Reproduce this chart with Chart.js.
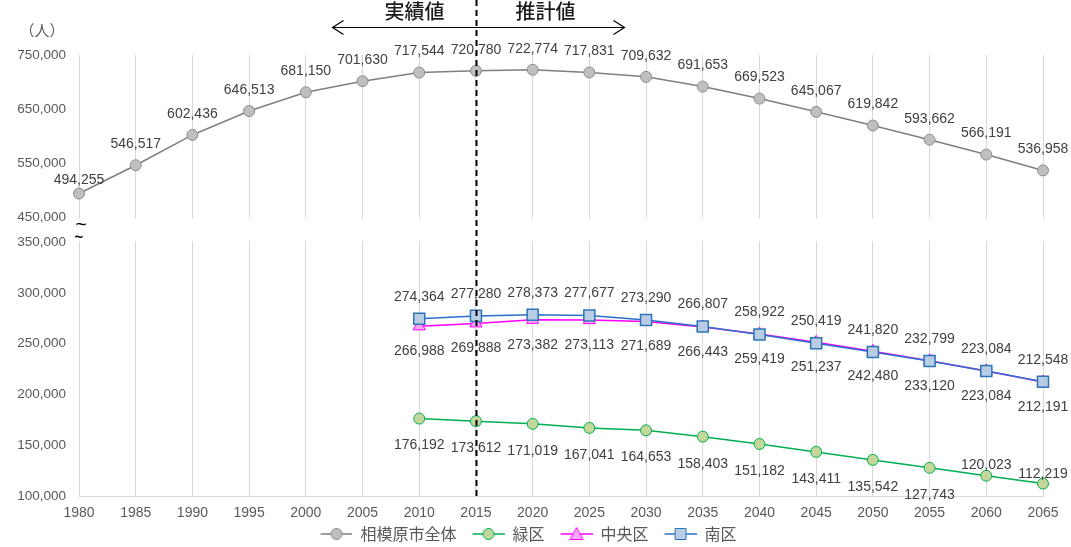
<!DOCTYPE html>
<html><head><meta charset="utf-8">
<script src="https://cdn.jsdelivr.net/npm/chart.js@4.4.1/dist/chart.umd.min.js"></script>
<style>html,body{margin:0;padding:0;background:#fff}#wrap{width:1071px;height:547px}</style>
</head><body><div id="wrap"><canvas id="c" width="1071" height="547"></canvas></div>
<script>
// ---- data ----
const years = ['1980','1985','1990','1995','2000','2005','2010','2015','2020','2025','2030','2035','2040','2045','2050','2055','2060','2065'];
const totalPop = [494255,546517,602436,646513,681150,701630,717544,720780,722774,717831,709632,691653,669523,645067,619842,593662,566191,536958];
const districtYears = ['2010','2015','2020','2025','2030','2035','2040','2045','2050','2055','2060','2065'];
const midori = [176192,173612,171019,167041,164653,158403,151182,143411,135542,127743,120023,112219];
const chuo   = [266988,269888,273382,273113,271689,266443,259419,251237,242480,233120,223084,212191];
const minami = [274364,277280,278373,277677,273290,266807,258922,250419,241820,232799,223084,212548];
const seriesNames = ['相模原市全体','緑区','中央区','南区'];
const topTicks = [450000,550000,650000,750000];
const bottomTicks = [100000,150000,200000,250000,300000,350000];
const splitYear = '2015';
const unitLabel = '（人）';
const pastLabel = '実績値';
const futureLabel = '推計値';

const FONT = '"Liberation Sans", "Noto Sans CJK JP", sans-serif';
const JFONT = '"Noto Sans CJK JP", "Liberation Sans", sans-serif';
const fmt = v => v.toLocaleString('en-US');
const pts = arr => districtYears.map((y,i)=>({x:y,y:arr[i]}));

// label vertical offsets (style only): negative = above
const labelDy = [
  totalPop.map((v,i)=> i===0 ? -13 : -21),
  midori.map((v,i)=> i>=10 ? (i===10 ? -11 : -9) : 27),
  chuo.map(()=>25),
  minami.map(()=>-22)
];

function legendIcon(ds){
  const c = document.createElement('canvas');
  c.width = 46; c.height = 16;
  const g = c.getContext('2d');
  const L = 14, W = 32, cx = L + W/2;
  g.strokeStyle = ds.borderColor; g.lineWidth = 1.5;
  g.beginPath(); g.moveTo(L,8); g.lineTo(L+W,8); g.stroke();
  g.fillStyle = ds.pointBackgroundColor; g.strokeStyle = ds.pointBorderColor; g.lineWidth = 1;
  g.beginPath();
  if (ds.pointStyle === 'rect') { g.rect(cx-5.5,2.5,11,11); }
  else if (ds.pointStyle === 'triangle') { g.moveTo(cx,1.5); g.lineTo(cx+6.5,13.5); g.lineTo(cx-6.5,13.5); g.closePath(); }
  else { g.arc(cx,8,5.5,0,Math.PI*2); }
  g.fill(); g.stroke();
  return c;
}

const overlay = {
  id: 'overlay',
  beforeDatasetsDraw(chart){
    const {ctx, chartArea, scales} = chart;
    const y1 = scales.yTop.getPixelForValue(450000) + 1;
    const y2 = scales.yBot.getPixelForValue(350000) - 1;
    ctx.save();
    ctx.fillStyle = '#fff';
    ctx.fillRect(chartArea.left - 2, y1, chartArea.right - chartArea.left + 4, y2 - y1);
    ctx.restore();
  },
  afterDatasetsDraw(chart){
    const {ctx} = chart;
    ctx.save();
    ctx.font = '14px ' + FONT;
    ctx.fillStyle = '#404040';
    ctx.textAlign = 'center';
    ctx.textBaseline = 'middle';
    chart.data.datasets.forEach((ds, di) => {
      const meta = chart.getDatasetMeta(di);
      meta.data.forEach((p, i) => {
        const raw = ds.data[i];
        const v = typeof raw === 'object' ? raw.y : raw;
        ctx.fillText(fmt(v), p.x, p.y + labelDy[di][i]);
      });
    });
    ctx.restore();
  },
  afterDraw(chart){
    const {ctx, scales, chartArea} = chart;
    const x = Math.round(scales.x.getPixelForValue(years.indexOf(splitYear))) + 0.5;
    ctx.save();
    // dashed split line
    ctx.strokeStyle = '#000'; ctx.lineWidth = 2; ctx.setLineDash([6,4]);
    ctx.beginPath(); ctx.moveTo(x, 0); ctx.lineTo(x, chartArea.bottom); ctx.stroke();
    ctx.setLineDash([]);
    // arrows
    const ay = 27.5, lx = x - 144, rx = x + 148;
    ctx.lineWidth = 1.2;
    ctx.beginPath(); ctx.moveTo(lx, ay); ctx.lineTo(rx, ay);
    ctx.moveTo(lx + 11, ay - 7); ctx.lineTo(lx, ay); ctx.lineTo(lx + 11, ay + 7);
    ctx.moveTo(rx - 11, ay - 7); ctx.lineTo(rx, ay); ctx.lineTo(rx - 11, ay + 7);
    ctx.stroke();
    ctx.fillStyle = '#1a1a1a';
    ctx.font = '500 20px ' + JFONT;
    ctx.textAlign = 'center'; ctx.textBaseline = 'middle';
    ctx.fillText(pastLabel, x - 62, 11);
    ctx.fillText(futureLabel, x + 69, 11);
    // unit
    ctx.font = '15px ' + JFONT; ctx.fillStyle = '#595959';
    ctx.fillText(unitLabel, 42, 30);
    // break marks
    ctx.fillStyle = '#000';
    ctx.font = '20px ' + FONT;
    ctx.fillText('~', chartArea.left + 2, 225);
    ctx.font = 'bold 15px ' + FONT;
    ctx.fillText('~', chartArea.left + 0, 238);
    ctx.restore();
  }
};

const yCommon = {
  position: 'left',
  stack: 'left',
  grid: { display: false, drawTicks: false },
  border: { display: false },
  ticks: { font: { size: 13.5, family: FONT }, color: '#595959', padding: 13, callback: v => fmt(v) },
  afterFit(s){ s.width = 79; }
};

new Chart(document.getElementById('c'), {
  type: 'line',
  data: {
    labels: years,
    datasets: [
      { label: seriesNames[0], data: totalPop, yAxisID: 'yTop', borderColor: '#7f7f7f', borderWidth: 1.5,
        pointBackgroundColor: '#bfbfbf', pointBorderColor: '#8c8c8c', pointBorderWidth: 1, pointRadius: 5.5, pointStyle: 'circle', order: 3 },
      { label: seriesNames[1], data: pts(midori), yAxisID: 'yBot', borderColor: '#00b050', borderWidth: 1.5,
        pointBackgroundColor: '#c3d69b', pointBorderColor: '#00b050', pointBorderWidth: 1, pointRadius: 5.5, pointStyle: 'circle', order: 2 },
      { label: seriesNames[2], data: pts(chuo), yAxisID: 'yBot', borderColor: '#ff00ff', borderWidth: 1.5,
        pointBackgroundColor: '#f7a8f7', pointBorderColor: '#ff00ff', pointBorderWidth: 1, pointRadius: 7, pointStyle: 'triangle', order: 1 },
      { label: seriesNames[3], data: pts(minami), yAxisID: 'yBot', borderColor: '#2a6fc9', borderWidth: 1.5,
        pointBackgroundColor: '#b8cce4', pointBorderColor: '#2e75b6', pointBorderWidth: 1.5, pointRadius: 7.8, pointStyle: 'rect', order: 0 }
    ]
  },
  options: {
    responsive: false,
    animation: false,
    layout: { padding: { top: 55, right: 28, left: 0, bottom: -5 } },
    plugins: {
      tooltip: { enabled: false },
      legend: {
        position: 'bottom',
        labels: {
          usePointStyle: true, pointStyleWidth: 46, padding: 2,
          font: { size: 16, family: JFONT }, color: '#595959',
          generateLabels(chart){
            return chart.data.datasets.map((ds, i) => ({
              text: ds.label, datasetIndex: i, pointStyle: legendIcon(ds),
              fillStyle: ds.pointBackgroundColor, strokeStyle: ds.borderColor, lineWidth: 0,
              fontColor: '#595959', hidden: false
            }));
          }
        }
      }
    },
    scales: {
      x: {
        type: 'category', offset: false,
        grid: { color: '#d9d9d9', lineWidth: 1, drawTicks: false },
        border: { color: '#d9d9d9' },
        ticks: { font: { size: 14, family: FONT }, color: '#595959', padding: 9, maxRotation: 0, autoSkip: false },
        afterFit(s){ s.height = 28; }
      },
      yBot: Object.assign({}, yCommon, {
        stackWeight: 254, min: 100000, max: 350000,
        afterBuildTicks(s){ s.ticks = bottomTicks.map(v => ({ value: v })); }
      }),
      yTop: Object.assign({}, yCommon, {
        stackWeight: 187, min: 404800, max: 750000,
        afterBuildTicks(s){ s.ticks = topTicks.map(v => ({ value: v })); }
      })
    }
  },
  plugins: [overlay]
});
</script></body></html>
